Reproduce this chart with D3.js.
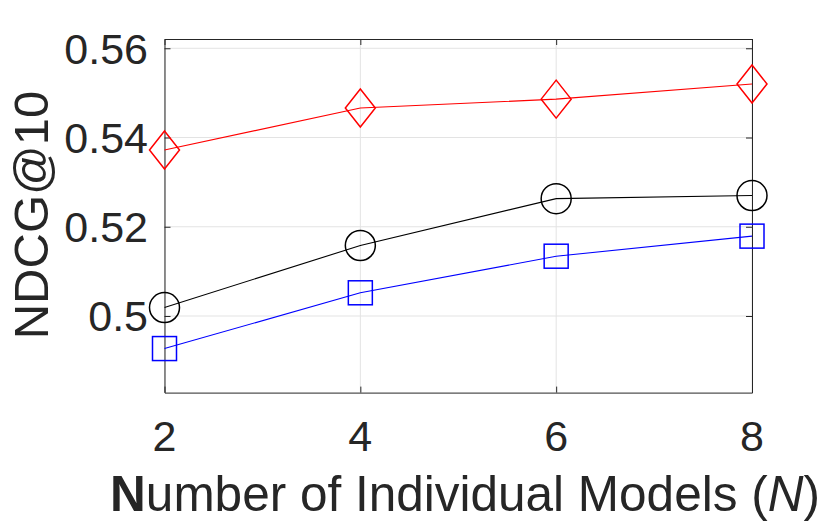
<!DOCTYPE html>
<html>
<head>
<meta charset="utf-8">
<script src="https://cdn.jsdelivr.net/npm/d3@7"></script>
<style>
  html, body { margin: 0; padding: 0; background: #fff; }
  svg { display: block; font-family: "Liberation Sans", Arial, Helvetica, sans-serif; }
</style>
</head>
<body>
<svg id="chart" width="830" height="524"></svg>
<script>
// ---- data ----
const xValues = [2, 4, 6, 8];
const xTicks = [2, 4, 6, 8];
const yTicks = [0.5, 0.52, 0.54, 0.56];
const yTickLabels = ["0.5", "0.52", "0.54", "0.56"];
const redDiamond = [0.5372, 0.5466, 0.5486, 0.5520];
const blackCircle = [0.5019, 0.5158, 0.5263, 0.5270];
const blueSquare = [0.4927, 0.5052, 0.5134, 0.5179];

const series = [
  { values: redDiamond, color: "#ff0000", marker: "diamond" },
  { values: blackCircle, color: "#000000", marker: "circle" },
  { values: blueSquare, color: "#0000ff", marker: "square" }
];

// ---- layout ----
const svg = d3.select("#chart");
const L = 164.5, R = 752, T = 39, B = 392.6;
const x = d3.scaleLinear().domain([2, 8]).range([L, R]);
const y = d3.scaleLinear().domain([0.48283, 0.56208]).range([B, T]);
const axisColor = "#262626";
const gridColor = "#e3e3e3";

// grid
const g = svg.append("g");
g.selectAll("line.gx").data(xTicks).enter().append("line")
  .attr("x1", d => x(d)).attr("x2", d => x(d)).attr("y1", T).attr("y2", B)
  .attr("stroke", gridColor).attr("stroke-width", 1);
g.selectAll("line.gy").data(yTicks).enter().append("line")
  .attr("y1", d => y(d)).attr("y2", d => y(d)).attr("x1", L).attr("x2", R)
  .attr("stroke", gridColor).attr("stroke-width", 1);

// axes via d3
const tl = 6;
const styleAxis = s => { s.select(".domain").attr("stroke", axisColor); s.selectAll("line").attr("stroke", axisColor); };
svg.append("g").attr("transform", `translate(0,${B})`)
  .call(d3.axisBottom(x).tickValues(xTicks).tickSizeInner(-tl).tickSizeOuter(0).tickFormat("")).call(styleAxis);
svg.append("g").attr("transform", `translate(0,${T})`)
  .call(d3.axisTop(x).tickValues(xTicks).tickSizeInner(-tl).tickSizeOuter(0).tickFormat("")).call(styleAxis);
svg.append("g").attr("transform", `translate(${L},0)`)
  .call(d3.axisLeft(y).tickValues(yTicks).tickSizeInner(-tl).tickSizeOuter(0).tickFormat("")).call(styleAxis);
svg.append("g").attr("transform", `translate(${R},0)`)
  .call(d3.axisRight(y).tickValues(yTicks).tickSizeInner(-tl).tickSizeOuter(0).tickFormat("")).call(styleAxis);

// tick labels
svg.append("g").selectAll("text").data(xTicks).enter().append("text")
  .attr("x", d => x(d)).attr("y", 451)
  .attr("text-anchor", "middle").attr("font-size", 43).attr("fill", axisColor)
  .text(d => d);
svg.append("g").selectAll("text").data(yTicks).enter().append("text")
  .attr("x", 148).attr("y", d => y(d) + 15.5)
  .attr("text-anchor", "end").attr("font-size", 43).attr("fill", axisColor)
  .text((d, i) => yTickLabels[i]);

// axis labels
const xl = svg.append("text").attr("x", 465).attr("y", 511)
  .attr("text-anchor", "middle").attr("font-size", 49.5).attr("fill", axisColor);
xl.append("tspan").attr("font-weight", "bold").text("N");
xl.append("tspan").text("umber of Individual Models (");
xl.append("tspan").attr("font-style", "italic").text("N");
xl.append("tspan").text(")");

svg.append("text")
  .attr("transform", `translate(48,215) rotate(-90)`)
  .attr("text-anchor", "middle").attr("font-size", 49).attr("fill", axisColor)
  .text("NDCG@10");

// series
const line = d3.line().x((d, i) => x(xValues[i])).y(d => y(d));
series.forEach(s => {
  svg.append("path").datum(s.values).attr("d", line)
    .attr("fill", "none").attr("stroke", s.color).attr("stroke-width", 1.1);
  const m = svg.append("g").selectAll("g").data(s.values).enter().append("g")
    .attr("transform", (d, i) => `translate(${x(xValues[i])},${y(d)})`);
  if (s.marker === "circle") {
    m.append("circle").attr("r", 15).attr("fill", "none").attr("stroke", s.color).attr("stroke-width", 1.5);
  } else if (s.marker === "square") {
    m.append("rect").attr("x", -12).attr("y", -12).attr("width", 24).attr("height", 24)
      .attr("fill", "none").attr("stroke", s.color).attr("stroke-width", 1.5);
  } else {
    m.append("path").attr("d", "M0,-19L15,0L0,19L-15,0Z")
      .attr("fill", "none").attr("stroke", s.color).attr("stroke-width", 1.5);
  }
});
</script>
</body>
</html>
